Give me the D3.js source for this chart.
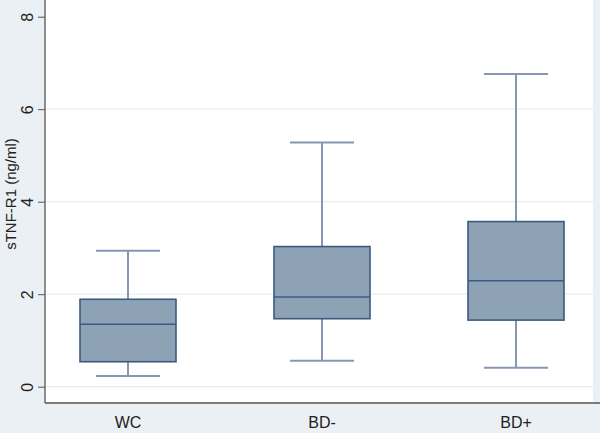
<!DOCTYPE html>
<html>
<head>
<meta charset="utf-8">
<script src="https://cdn.jsdelivr.net/npm/d3@7"></script>
<style>
  body { margin: 0; background: #eaf0f3; }
  text { font-family: "Liberation Sans", Arial, sans-serif; fill: #222; }
</style>
</head>
<body>
<div id="chart"></div>
<script>
// chart data
var groups = ["WC", "BD-", "BD+"];
var lowWhisker = [0.23, 0.56, 0.41];
var q1 = [0.54, 1.47, 1.44];
var median = [1.35, 1.94, 2.29];
var q3 = [1.89, 3.03, 3.57];
var highWhisker = [2.94, 5.28, 6.76];
var yTicks = [0, 2, 4, 6, 8];
var gridTicks = [0, 2, 4, 6];

var svgWidth = 600;
var svgHeight = 433;

var plot = { left: 45, right: 593, top: 0, bottom: 403 };

var svg = d3.select("#chart")
  .append("svg")
  .attr("width", svgWidth)
  .attr("height", svgHeight);

// background
svg.append("rect")
  .attr("width", svgWidth)
  .attr("height", svgHeight)
  .attr("fill", "#eaf0f3");

svg.append("rect")
  .attr("x", plot.left)
  .attr("y", plot.top)
  .attr("width", plot.right - plot.left)
  .attr("height", plot.bottom - plot.top)
  .attr("fill", "#ffffff");

// scales
var yScale = d3.scaleLinear()
  .domain([0, 8])
  .range([386.7, 16.7]);

var xScale = d3.scalePoint()
  .domain(groups)
  .range([128, 516]);

var boxWidth = 96;
var capWidth = 64;

// gridlines
svg.append("g")
  .selectAll("line")
  .data(gridTicks)
  .enter()
  .append("line")
  .attr("x1", plot.left)
  .attr("x2", plot.right)
  .attr("y1", d => yScale(d))
  .attr("y2", d => yScale(d))
  .attr("stroke", "#e6eff0")
  .attr("stroke-width", 1.2);

// left axis
var leftAxis = d3.axisLeft(yScale)
  .tickValues(yTicks)
  .tickSize(7)
  .tickPadding(0)
  .tickFormat(d3.format("d"));

var yAxis = svg.append("g")
  .attr("transform", `translate(${plot.left}, 0)`)
  .call(leftAxis);

yAxis.select(".domain").remove();
yAxis.selectAll(".tick line").attr("stroke", "#555");
yAxis.selectAll(".tick text")
  .attr("transform", "rotate(-90)")
  .attr("x", 0)
  .attr("y", -12)
  .attr("dy", "0em")
  .attr("text-anchor", "middle")
  .style("font-size", "16px")
  .style("font-family", "Liberation Sans, Arial, sans-serif")
  .attr("fill", "#222");

// axis lines
svg.append("line")
  .attr("x1", plot.left)
  .attr("x2", plot.left)
  .attr("y1", plot.top)
  .attr("y2", plot.bottom)
  .attr("stroke", "#555")
  .attr("stroke-width", 1.3);

svg.append("line")
  .attr("x1", plot.left)
  .attr("x2", svgWidth)
  .attr("y1", plot.bottom)
  .attr("y2", plot.bottom)
  .attr("stroke", "#555")
  .attr("stroke-width", 1.3);

// y label
svg.append("text")
  .attr("transform", "rotate(-90)")
  .attr("x", -194)
  .attr("y", 16)
  .attr("text-anchor", "middle")
  .style("font-size", "15px")
  .text("sTNF-R1 (ng/ml)");

// boxes
var idx = d3.range(groups.length);
var boxes = svg.append("g");

// whiskers
boxes.selectAll(".whisker-low")
  .data(idx)
  .enter()
  .append("line")
  .attr("x1", i => xScale(groups[i]))
  .attr("x2", i => xScale(groups[i]))
  .attr("y1", i => yScale(lowWhisker[i]))
  .attr("y2", i => yScale(q1[i]))
  .attr("stroke", "#8797b3")
  .attr("stroke-width", 2);

boxes.selectAll(".whisker-high")
  .data(idx)
  .enter()
  .append("line")
  .attr("x1", i => xScale(groups[i]))
  .attr("x2", i => xScale(groups[i]))
  .attr("y1", i => yScale(q3[i]))
  .attr("y2", i => yScale(highWhisker[i]))
  .attr("stroke", "#8797b3")
  .attr("stroke-width", 2);

// caps
[lowWhisker, highWhisker].forEach(function(vals) {
  boxes.append("g")
    .selectAll("line")
    .data(idx)
    .enter()
    .append("line")
    .attr("x1", i => xScale(groups[i]) - capWidth / 2)
    .attr("x2", i => xScale(groups[i]) + capWidth / 2)
    .attr("y1", i => yScale(vals[i]))
    .attr("y2", i => yScale(vals[i]))
    .attr("stroke", "#8797b3")
    .attr("stroke-width", 2);
});

boxes.selectAll("rect")
  .data(idx)
  .enter()
  .append("rect")
  .attr("x", i => xScale(groups[i]) - boxWidth / 2)
  .attr("width", boxWidth)
  .attr("y", i => yScale(q3[i]))
  .attr("height", i => yScale(q1[i]) - yScale(q3[i]))
  .attr("fill", "#8ea2b6")
  .attr("stroke", "#3b5a80")
  .attr("stroke-width", 1.6);

// medians
boxes.selectAll(".median")
  .data(idx)
  .enter()
  .append("line")
  .attr("x1", i => xScale(groups[i]) - boxWidth / 2)
  .attr("x2", i => xScale(groups[i]) + boxWidth / 2)
  .attr("y1", i => yScale(median[i]))
  .attr("y2", i => yScale(median[i]))
  .attr("stroke", "#3b5a80")
  .attr("stroke-width", 1.5);

// x labels
svg.append("g")
  .selectAll("text")
  .data(groups)
  .enter()
  .append("text")
  .attr("x", d => xScale(d))
  .attr("y", 428)
  .attr("text-anchor", "middle")
  .style("font-size", "16px")
  .text(d => d);
</script>
</body>
</html>
